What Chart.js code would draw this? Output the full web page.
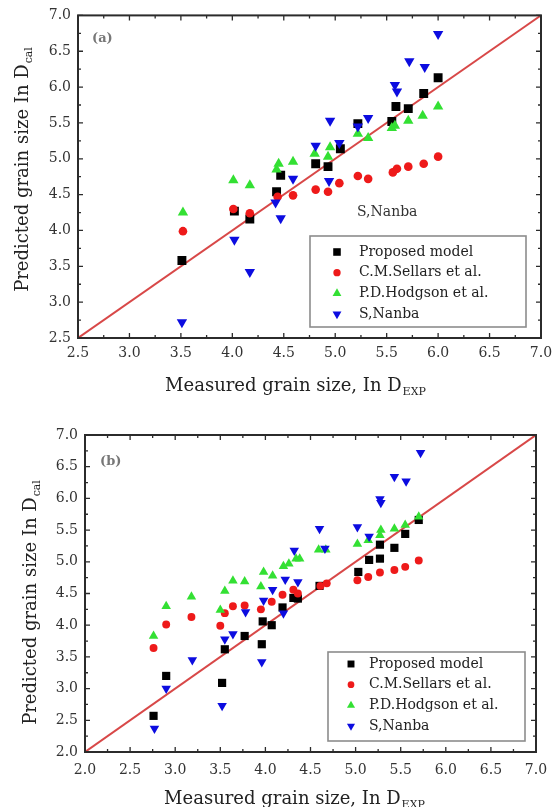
<!DOCTYPE html>
<html>
<head>
<meta charset="utf-8">
<title>Grain size</title>
<script src="https://cdn.jsdelivr.net/npm/chart.js@4.4.1/dist/chart.umd.min.js"></script>
<style>
  html, body { margin: 0; padding: 0; background: #fff; }
  #wrap { position: relative; width: 560px; height: 807px; }
  canvas { position: absolute; left: 0; }
  #c-grain-a { top: 0; }
  #c-grain-b { top: 400px; }
</style>
</head>
<body>
<div id="wrap">
  <canvas id="c-grain-a" width="560" height="400"></canvas>
  <canvas id="c-grain-b" width="560" height="407"></canvas>
</div>
<script>
// series names, same order in both panels
const seriesNames = ['Proposed model', 'C.M.Sellars et al.', 'P.D.Hodgson et al.', 'S,Nanba']

// axis ranges and tick spacing
const rangeA = [2.5, 7.0]
const rangeB = [2.0, 7.0]
const majorStep = 0.5
const minorStep = 0.25

// panel (a): [measured, predicted]
const aProposed = [[3.51, 3.58], [4.02, 4.27], [4.17, 4.16], [4.43, 4.54], [4.47, 4.77], [4.81, 4.93], [4.93, 4.89], [5.05, 5.14], [5.22, 5.49], [5.55, 5.52], [5.59, 5.73], [5.71, 5.70], [5.86, 5.91], [6.00, 6.13]]
const aSellars = [[3.52, 3.99], [4.01, 4.30], [4.17, 4.24], [4.44, 4.47], [4.59, 4.49], [4.81, 4.57], [4.93, 4.54], [5.04, 4.66], [5.22, 4.76], [5.32, 4.72], [5.56, 4.81], [5.60, 4.86], [5.71, 4.89], [5.86, 4.93], [6.00, 5.03]]
const aHodgson = [[3.52, 4.25], [4.01, 4.70], [4.17, 4.63], [4.43, 4.85], [4.45, 4.93], [4.59, 4.96], [4.80, 5.07], [4.93, 5.03], [4.95, 5.16], [5.22, 5.35], [5.32, 5.29], [5.55, 5.43], [5.58, 5.46], [5.71, 5.53], [5.85, 5.60], [6.00, 5.73]]
const aNanba = [[3.51, 2.72], [4.02, 3.87], [4.17, 3.42], [4.42, 4.39], [4.47, 4.17], [4.59, 4.72], [4.81, 5.18], [4.94, 4.69], [4.95, 5.53], [5.04, 5.22], [5.22, 5.45], [5.32, 5.57], [5.58, 6.03], [5.60, 5.94], [5.72, 6.36], [5.87, 6.28], [6.00, 6.74]]

// panel (b): [measured, predicted]
const bProposed = [[2.76, 2.57], [2.90, 3.20], [3.52, 3.09], [3.55, 3.62], [3.77, 3.83], [3.96, 3.70], [3.97, 4.06], [4.07, 4.00], [4.19, 4.28], [4.31, 4.43], [4.36, 4.42], [4.60, 4.62], [5.03, 4.84], [5.15, 5.03], [5.27, 5.05], [5.27, 5.27], [5.43, 5.22], [5.55, 5.44], [5.70, 5.66]]
const bSellars = [[2.76, 3.64], [2.90, 4.01], [3.18, 4.13], [3.50, 3.99], [3.55, 4.19], [3.64, 4.30], [3.77, 4.31], [3.95, 4.25], [4.07, 4.37], [4.19, 4.48], [4.31, 4.56], [4.36, 4.50], [4.61, 4.62], [4.68, 4.66], [5.02, 4.71], [5.14, 4.76], [5.27, 4.83], [5.43, 4.87], [5.55, 4.92], [5.70, 5.02]]
const bHodgson = [[2.76, 3.83], [2.90, 4.30], [3.18, 4.45], [3.50, 4.24], [3.55, 4.54], [3.64, 4.70], [3.77, 4.69], [3.95, 4.61], [3.98, 4.84], [4.08, 4.78], [4.20, 4.93], [4.26, 4.97], [4.34, 5.05], [4.38, 5.05], [4.59, 5.19], [4.67, 5.19], [5.02, 5.28], [5.14, 5.34], [5.27, 5.42], [5.28, 5.50], [5.43, 5.52], [5.55, 5.58], [5.70, 5.71]]
const bNanba = [[2.77, 2.37], [2.90, 3.00], [3.19, 3.45], [3.52, 2.73], [3.55, 3.78], [3.64, 3.86], [3.78, 4.21], [3.96, 3.42], [3.98, 4.39], [4.08, 4.56], [4.20, 4.19], [4.22, 4.72], [4.36, 4.68], [4.32, 5.18], [4.60, 5.52], [4.66, 5.21], [5.02, 5.55], [5.15, 5.40], [5.27, 5.99], [5.28, 5.93], [5.43, 6.34], [5.56, 6.27], [5.72, 6.72]]

const colors = ['#000000', '#ee1a1a', '#33e033', '#0c0ce0']
const lineColor = '#d84848'
const serif = '"DejaVu Serif", "Liberation Serif", serif'

const xy = pairs => pairs.map(([x, y]) => ({ x, y }))
const isMajor = v => Math.abs(v / majorStep - Math.round(v / majorStep)) < 1e-6

function makeDatasets(series, range, r) {
  return [
    { label: seriesNames[0], data: xy(series[0]), pointStyle: 'rect', pointRadius: r * 1.05, backgroundColor: colors[0], order: 4 },
    { label: seriesNames[1], data: xy(series[1]), pointStyle: 'circle', pointRadius: r * 0.72, backgroundColor: colors[1], order: 3 },
    { label: seriesNames[2], data: xy(series[2]), pointStyle: 'triangle', pointRadius: r, backgroundColor: colors[2], order: 2 },
    { label: seriesNames[3], data: xy(series[3]), pointStyle: 'triangle', pointRotation: 180, pointRadius: r, backgroundColor: colors[3], order: 1 },
    // y = x reference line
    { label: '', data: [{ x: range[0], y: range[0] }, { x: range[1], y: range[1] }], showLine: true,
      borderColor: lineColor, borderWidth: 2, pointRadius: 0, order: 5 }
  ]
}

// text with a lowered subscript, optionally rotated
function subText(ctx, main, sub, cx, cy, rot, size) {
  ctx.save()
  ctx.translate(cx, cy)
  ctx.rotate(rot)
  const mainFont = size + 'px ' + serif
  const subFont = Math.round(size * 0.62) + 'px ' + serif
  ctx.font = mainFont
  const w1 = ctx.measureText(main).width
  ctx.font = subFont
  const w2 = ctx.measureText(sub).width
  const x0 = -(w1 + w2) / 2
  ctx.fillStyle = '#222'
  ctx.textAlign = 'left'
  ctx.textBaseline = 'alphabetic'
  ctx.font = mainFont
  ctx.fillText(main, x0, size * 0.36)
  ctx.font = subFont
  ctx.fillText(sub, x0 + w1 + 1, size * 0.36 + 4)
  ctx.restore()
}

// frame, inward ticks, legend box and titles
const decor = {
  id: 'decor',
  afterDatasetsDraw(chart, args, o) {
    const { ctx, chartArea: a } = chart
    const sx = chart.scales.x, sy = chart.scales.y
    ctx.save()
    ctx.strokeStyle = '#2b2b2b'
    ctx.lineWidth = 1.3
    ctx.beginPath()
    for (let v = sx.min; v <= sx.max + 1e-9; v += minorStep) {
      const px = sx.getPixelForValue(v)
      const len = isMajor(v) ? 5 : 3
      ctx.moveTo(px, a.bottom); ctx.lineTo(px, a.bottom - len)
      ctx.moveTo(px, a.top); ctx.lineTo(px, a.top + len)
    }
    for (let v = sy.min; v <= sy.max + 1e-9; v += minorStep) {
      const py = sy.getPixelForValue(v)
      const len = isMajor(v) ? 5 : 3
      ctx.moveTo(a.left, py); ctx.lineTo(a.left + len, py)
      ctx.moveTo(a.right, py); ctx.lineTo(a.right - len, py)
    }
    ctx.stroke()
    ctx.lineWidth = 2
    ctx.strokeRect(a.left, a.top, a.right - a.left, a.bottom - a.top)

    // legend
    const L = o.legend
    ctx.fillStyle = '#fff'
    ctx.fillRect(L.left, L.top, L.width, L.height)
    ctx.lineWidth = 1.6
    ctx.strokeStyle = '#8c8c8c'
    ctx.strokeRect(L.left, L.top, L.width, L.height)
    ctx.font = '14px ' + serif
    ctx.textAlign = 'left'
    ctx.textBaseline = 'middle'
    chart.data.datasets.filter(d => d.label).forEach((d, i) => {
      const y = L.rowTop + i * L.rowGap
      ctx.fillStyle = d.backgroundColor
      Chart.helpers.drawPoint(ctx, {
        pointStyle: d.pointStyle, radius: d.pointRadius * 0.85,
        rotation: d.pointRotation || 0, borderWidth: 0
      }, L.markX, y)
      ctx.fillStyle = '#222'
      ctx.fillText(d.label, L.textX, y)
    })

    // panel tag and loose note
    ctx.fillStyle = '#777'
    ctx.font = 'bold 13px ' + serif
    ctx.fillText(o.tag.text, o.tag.x, o.tag.y)
    if (o.note) {
      ctx.fillStyle = '#333'
      ctx.font = '14px ' + serif
      ctx.fillText(o.note.text, o.note.x, o.note.y)
    }
    ctx.restore()
  },
  afterDraw(chart, args, o) {
    const { ctx } = chart
    const t = o.titles
    subText(ctx, 'Measured grain size, In D', 'EXP', t.xCx, t.xCy, 0, 18)
    subText(ctx, 'Predicted grain size In D', 'cal', t.yCx, t.yCy, -Math.PI / 2, 18)
  }
}

function axis(range, size, padding, dir) {
  return {
    type: 'linear',
    min: range[0],
    max: range[1],
    grid: { display: false, drawTicks: false },
    border: { display: false },
    ticks: {
      stepSize: majorStep,
      autoSkip: false,
      maxRotation: 0,
      padding: padding,
      color: '#333',
      font: { family: serif, size: 14 },
      callback: v => Number(v).toFixed(1)
    },
    afterFit(scale) {
      if (dir === 'x') scale.height = size
      else scale.width = size
    }
  }
}

function makeChart(id, series, range, r, frame, decorOpts) {
  const ctx = document.getElementById(id).getContext('2d')
  return new Chart(ctx, {
    type: 'scatter',
    data: { datasets: makeDatasets(series, range, r) },
    options: {
      responsive: false,
      animation: false,
      events: [],
      layout: { padding: { left: 0, right: frame.right, top: frame.top, bottom: 0 } },
      elements: { point: { borderWidth: 0 } },
      scales: {
        x: axis(range, frame.xh, frame.xpad, 'x'),
        y: axis(range, frame.yw, 7, 'y')
      },
      plugins: {
        legend: { display: false },
        tooltip: { enabled: false },
        decor: decorOpts
      }
    },
    plugins: [decor]
  })
}

makeChart('c-grain-a', [aProposed, aSellars, aHodgson, aNanba], rangeA, 6,
  { right: 19, top: 15, xh: 62, yw: 78, xpad: 7 },
  {
    legend: { left: 310, top: 236, width: 216, height: 91, markX: 337, textX: 359, rowTop: 252, rowGap: 20.7 },
    tag: { text: '(a)', x: 92, y: 39 },
    note: { text: 'S,Nanba', x: 357, y: 212 },
    titles: { xCx: 295, xCy: 385, yCx: 22, yCy: 170 }
  })

makeChart('c-grain-b', [bProposed, bSellars, bHodgson, bNanba], rangeB, 5.5,
  { right: 24, top: 35, xh: 55, yw: 85, xpad: 10 },
  {
    legend: { left: 328, top: 252, width: 197, height: 89, markX: 351, textX: 369, rowTop: 264, rowGap: 20.7 },
    tag: { text: '(b)', x: 100, y: 62 },
    titles: { xCx: 294, xCy: 398, yCx: 30, yCy: 203 }
  })
</script>
</body>
</html>
